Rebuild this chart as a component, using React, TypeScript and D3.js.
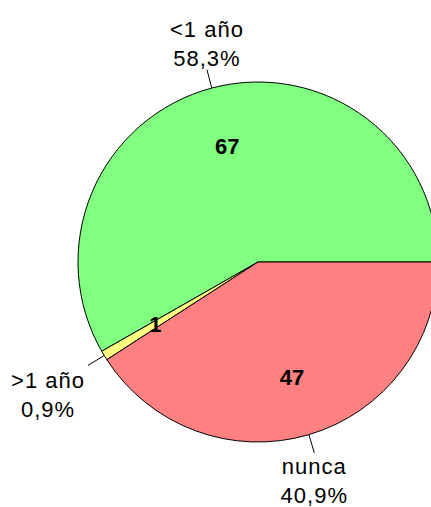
import React from "react";
import * as d3 from "d3";

const categories = ["<1 año", ">1 año", "nunca"];
const counts = [67, 1, 47];
const colors = ["#80FF80", "#FFFF80", "#FF8080"];

const W = 431;
const H = 507;
const CX = 258;
const CY = 262;
const R = 180;

export default function App() {
  const total = d3.sum(counts);
  const pie = d3
    .pie<number>()
    .sort(null)
    .startAngle(Math.PI / 2)
    .endAngle(Math.PI / 2 - 2 * Math.PI);
  const arcs = pie(counts);
  const arcGen = d3.arc<d3.PieArcDatum<number>>().innerRadius(0).outerRadius(R);
  const fmt = (v: number) => ((v / total) * 100).toFixed(1).replace(".", ",") + "%";

  return (
    <svg
      width={W}
      height={H}
      style={{ position: "absolute", left: 0, top: 0, background: "#fff" }}
      fontFamily="'Liberation Sans', Arial, sans-serif"
    >
      <g transform={`translate(${CX},${CY})`}>
        {arcs.map((a, i) => (
          <path key={i} d={arcGen(a) || ""} fill={colors[i]} stroke="#000" strokeWidth={1} />
        ))}
        {arcs.map((a, i) => {
          const mid = (a.startAngle + a.endAngle) / 2;
          const dx = Math.sin(mid);
          const dy = -Math.cos(mid);
          return (
            <text
              key={"v" + i}
              x={dx * 120}
              y={dy * 120 + 7.5}
              textAnchor="middle"
              fontWeight="bold"
              fontSize={22}
            >
              {counts[i]}
            </text>
          );
        })}
        {arcs.map((a, i) => {
          const mid = (a.startAngle + a.endAngle) / 2;
          const dx = Math.sin(mid);
          const dy = -Math.cos(mid);
          const x1 = dx * R;
          const y1 = dy * R;
          const ex = dx * 199;
          const ey = dy * 199;
          const w = 78;
          const cx = ex + (Math.abs(dx) > 0.7 ? Math.sign(dx) * (w / 2 + 1) : 0);
          const cy = ey + Math.sign(dy) * 27 + (Math.abs(dx) > 0.7 ? 2 : 0);
          return (
            <g key={"l" + i}>
              <line x1={x1} y1={y1} x2={ex} y2={ey} stroke="#000" strokeWidth={1} />
              <text x={cx} y={cy - 6} textAnchor="middle" fontSize={22} letterSpacing={1}>
                {categories[i]}
              </text>
              <text x={cx} y={cy + 23} textAnchor="middle" fontSize={22} letterSpacing={1}>
                {fmt(counts[i])}
              </text>
            </g>
          );
        })}
      </g>
    </svg>
  );
}
